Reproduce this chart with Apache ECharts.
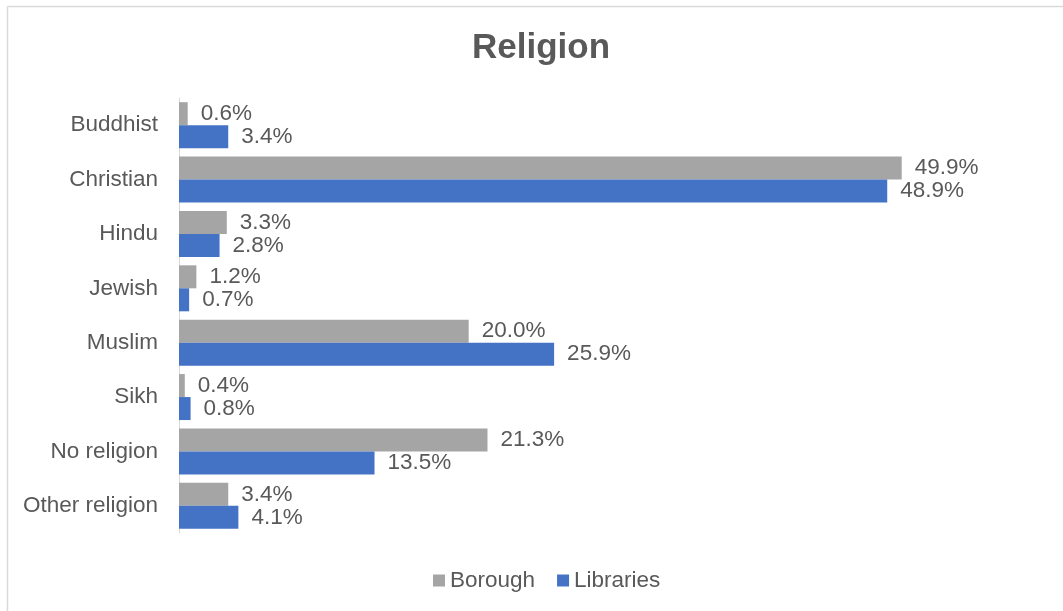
<!DOCTYPE html>
<html>
<head>
<meta charset="utf-8">
<script src="https://cdn.jsdelivr.net/npm/echarts@6/dist/echarts.min.js"></script>
<style>
html,body{margin:0;padding:0;background:#fff;}
#c{width:1063px;height:611px;}
</style>
</head>
<body>
<div id="c"></div>
<script>
const categories = ['Buddhist','Christian','Hindu','Jewish','Muslim','Sikh','No religion','Other religion'];
const borough = [0.6, 49.9, 3.3, 1.2, 20.0, 0.4, 21.3, 3.4];
const libraries = [3.4, 48.9, 2.8, 0.7, 25.9, 0.8, 13.5, 4.1];
const seriesNames = ['Borough','Libraries'];

const FONT = '"Liberation Sans", Arial, sans-serif';
const TXT = '#595959';
const chart = echarts.init(document.getElementById('c'), null, {renderer:'canvas'});
const lbl = {
  show:true, position:'right', distance:13,
  formatter: p => p.value.toFixed(1) + '%',
  color: TXT, fontSize: 22.5, fontFamily: FONT
};
chart.setOption({
  animation:false,
  backgroundColor:'#fff',
  title:{
    text:'Religion', left:467, top:26, itemGap:0,
    textStyle:{fontSize:35, fontWeight:'bold', color:TXT, fontFamily:FONT}
  },
  legend:{
    bottom:14, left:428,
    itemWidth:12, itemHeight:12, itemGap:22, icon:'rect',
    textStyle:{fontSize:22.5, color:TXT, fontFamily:FONT, padding:[0,0,0,0]},
    data:seriesNames
  },
  grid:{left:179, top:98, width:869, height:435, containLabel:false},
  xAxis:{
    type:'value', min:0, max:60, show:false
  },
  yAxis:{
    type:'category', data:categories, inverse:true,
    axisLine:{show:true, lineStyle:{color:'#D9D9D9', width:1}},
    axisTick:{show:false},
    axisLabel:{color:TXT, fontSize:22.5, fontFamily:FONT, margin:21, lineHeight:26, verticalAlign:'middle', padding:[4,0,0,0]}
  },
  series:[
    {name:seriesNames[0], type:'bar', data:borough, barWidth:23, barGap:'0%',
     itemStyle:{color:'#A5A5A5'}, label:lbl},
    {name:seriesNames[1], type:'bar', data:libraries, barWidth:23, barGap:'0%',
     itemStyle:{color:'#4472C4'}, label:lbl}
  ],
  graphic:[
    {type:'line', shape:{x1:7.5,y1:6.5,x2:1063,y2:6.5}, style:{stroke:'#D9D9D9', lineWidth:1.5}, silent:true},
    {type:'line', shape:{x1:7.5,y1:6.5,x2:7.5,y2:611}, style:{stroke:'#D9D9D9', lineWidth:1.5}, silent:true}
  ]
});
</script>
</body>
</html>
